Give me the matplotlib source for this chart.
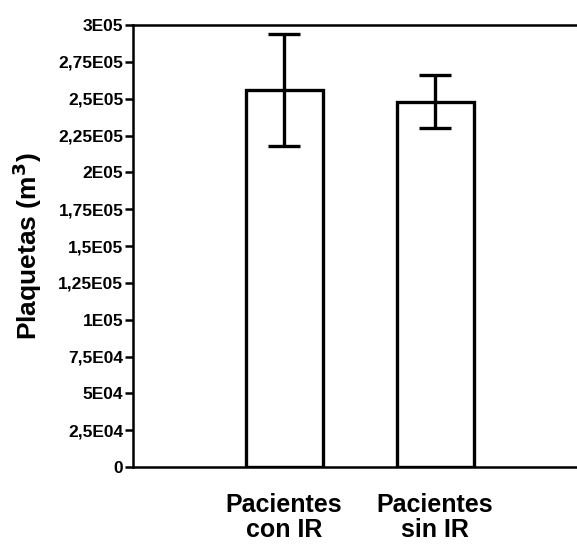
import matplotlib
matplotlib.use("Agg")

import matplotlib.pyplot as plt

# -----------------------------
# DATOS
# -----------------------------

grupos = ["Pacientes\ncon IR", "Pacientes\nsin IR"]
medias = [256000, 248000]
errores = [38000, 18000]

yticks = [0, 25000, 50000, 75000, 100000, 125000, 150000,
          175000, 200000, 225000, 250000, 275000, 300000]
ytick_labels = ["0", "2,5E04", "5E04", "7,5E04", "1E05", "1,25E05", "1,5E05",
                "1,75E05", "2E05", "2,25E05", "2,5E05", "2,75E05", "3E05"]

plt.rcParams["font.family"] = ["Liberation Sans", "DejaVu Sans"]

fig = plt.figure(figsize=(5.77, 5.44), dpi=100, facecolor="white")
ax = fig.add_axes([0.2305, 0.1415, 0.7695, 0.8125])

x = list(range(len(grupos)))

ax.bar(
    x,
    medias,
    width=0.51,
    color="white",
    edgecolor="black",
    linewidth=2.4,
    zorder=2
)

ax.errorbar(
    x,
    medias,
    yerr=errores,
    fmt="none",
    ecolor="black",
    elinewidth=2.4,
    capsize=11.5,
    capthick=2.4,
    zorder=3
)

ax.set_xlim(-1.0, 1.94)
ax.set_ylim(0, 300000)

ax.set_yticks(yticks)
ax.set_yticklabels(ytick_labels, fontsize=12.5, fontweight="heavy")
ax.tick_params(axis="y", direction="out", length=6, width=1.8, pad=1)

ax.set_xticks(x)
ax.set_xticklabels(grupos, fontsize=18, fontweight="heavy", linespacing=1.05)
ax.tick_params(axis="x", length=0, pad=19)

ax.set_ylabel("Plaquetas (m$^\\mathbf{3}$)", fontsize=19, fontweight="heavy", labelpad=10)

for side in ["left", "bottom", "top"]:
    ax.spines[side].set_linewidth(1.8)
ax.spines["right"].set_visible(False)

fig.savefig("out.png", dpi=100, facecolor="white")
plt.close(fig)
